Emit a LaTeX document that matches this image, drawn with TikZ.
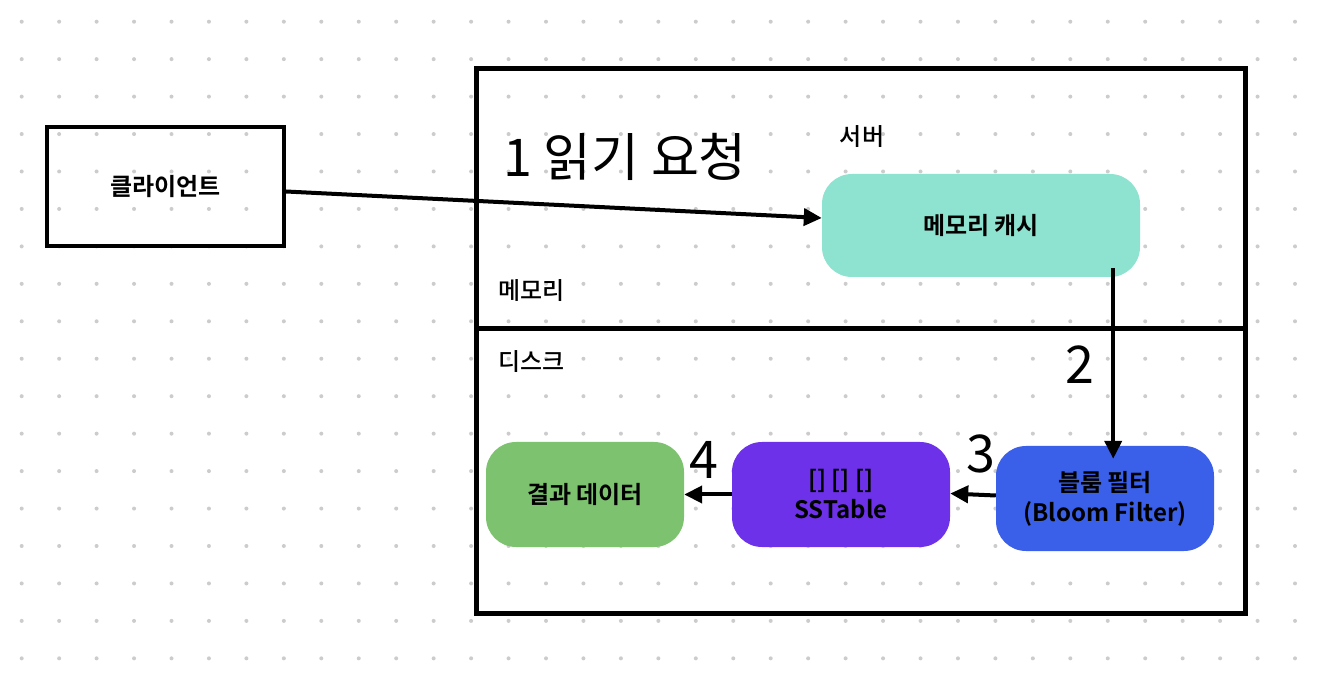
\documentclass[tikz,border=0pt]{standalone}
\usepackage{fontspec}
\setmainfont{Noto Sans CJK KR}[BoldFont={Noto Sans CJK KR Bold}]
\newfontfamily\medfont{Noto Sans CJK KR Medium}
\usetikzlibrary{arrows.meta,calc}
\definecolor{dotgray}{HTML}{CCCCCC}
\definecolor{cachefill}{HTML}{8EE3D0}
\definecolor{bloomfill}{HTML}{3A5FE8}
\definecolor{sstfill}{HTML}{6E31EA}
\definecolor{resfill}{HTML}{7DC36F}
\tikzset{
  flow/.style={rounded corners=30pt, inner sep=0pt, align=center,
    font=\bfseries\fontsize{24}{30}\selectfont, text=black},
  lbl/.style={font=\medfont\fontsize{24}{28}\selectfont, inner sep=0pt},
  big/.style={font=\fontsize{52}{60}\selectfont, inner sep=0pt},
  arr/.style={line width=4pt, -{Triangle[length=18pt,width=17pt]}},
}
\begin{document}
\begin{tikzpicture}[x=1pt,y=-1pt]
\useasboundingbox (0,0) rectangle (1318,684);
\fill[white] (0,0) rectangle (1318,684);
\foreach \i in {0,...,34}{
  \foreach \j in {0,...,17}{
    \fill[dotgray] ({21.7+\i*37.45},{21.7+\j*37.45}) circle (2pt);
  }
}
% server box
\draw[line width=5pt] (476.5,68.5) rectangle (1245.5,613.5);
\coordinate (divl) at (476.5,329);
\coordinate (divr) at (1245.5,329);
\draw[line width=5pt] (divl) -- (divr);
% client
\node[draw, line width=4pt, fill=none, minimum width=237pt, minimum height=119pt,
  inner sep=0pt, font=\bfseries\fontsize{24}{30}\selectfont] (client) at (165.5,186.5) {클라이언트};
% nodes
\node[flow, fill=cachefill, minimum width=318pt, minimum height=103pt] (cache) at (981,225.5) {메모리 캐시};
\node[flow, fill=bloomfill, minimum width=218pt, minimum height=105pt] (bloom) at (1105,498.5) {블룸 필터\\(Bloom Filter)};
\node[flow, fill=sstfill, minimum width=218pt, minimum height=105pt] (sst) at (841,494.5) {[] [] []\\SSTable};
\node[flow, fill=resfill, minimum width=198pt, minimum height=105pt] (res) at (585,494.5) {결과 데이터};
% labels
\node[lbl] (server) at (862,137) {서버};
\node[lbl, anchor=west] (mem) at (498,291) {메모리};
\node[lbl, anchor=west] (disk) at (498,362) {디스크};
\node[big, anchor=west] (req) at (503,157) {1 읽기 요청};
\node[big] (n2) at (1080,365) {2};
\node[big] (n3) at (981,454) {3};
\node[big] (n4) at (704,460) {4};
% arrows
\draw[arr] ($(client.east)+(0,5)$) -- ($(cache.west)+(0,-7.5)$);
\coordinate (a2s) at ($(cache.south east)+(-27,-9)$);
\coordinate (a2e) at ($(bloom.north)+(0,13)$);
\draw[arr] (a2s) -- (a2s |- a2e);
\draw[arr] ($(bloom.west)+(0,-3)$) -- ($(sst.east)+(0,-1)$);
\draw[arr] (sst.west) -- (res.east);
\end{tikzpicture}
\end{document}
